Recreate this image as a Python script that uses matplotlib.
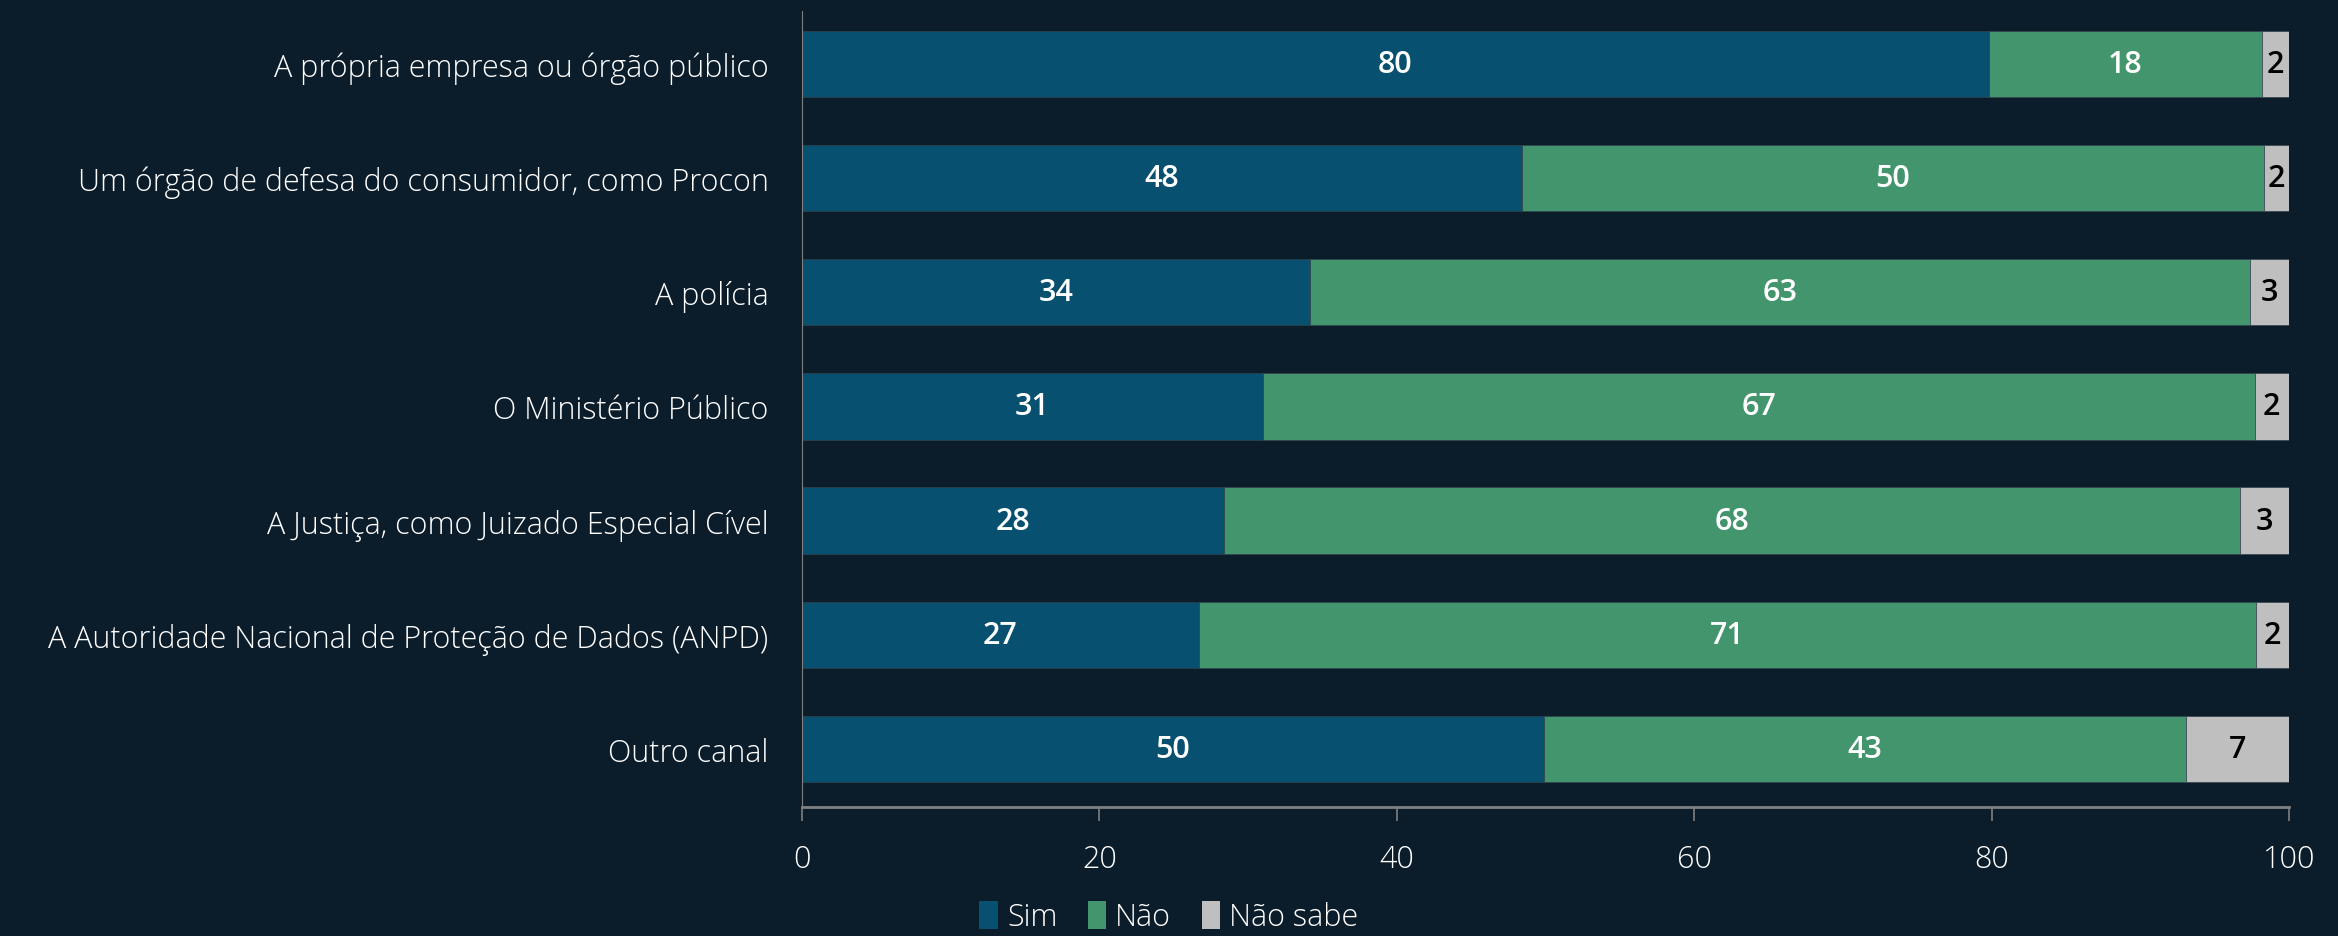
import numpy as np
import matplotlib.pyplot as plt
from matplotlib.patches import Patch

# Data (percent)
categories = [
    'A própria empresa ou órgão público',
    'Um órgão de defesa do consumidor, como Procon',
    'A polícia',
    'O Ministério Público',
    'A Justiça, como Juizado Especial Cível',
    'A Autoridade Nacional de Proteção de Dados (ANPD)',
    'Outro canal',
]
sim = [79.8, 48.4, 34.2, 31.0, 28.4, 26.7, 49.9]
nao = [18.4, 49.9, 63.2, 66.7, 68.3, 71.1, 43.2]
nao_sabe = [1.8, 1.7, 2.6, 2.3, 3.3, 2.2, 6.9]
series_names = ['Sim', 'Não', 'Não sabe']

bg = '#0B1C2A'
colors = ['#08506F', '#43956D', '#BFBFBF']
text_colors = ['white', 'white', 'black']

plt.rcParams['font.family'] = ['Open Sans', 'DejaVu Sans']

fig = plt.figure(figsize=(23.38, 9.37), dpi=100, facecolor=bg)
ax = fig.add_axes([0.343, 0.1377, 0.636, 0.8495], facecolor=bg)

y = np.arange(len(categories))
left = np.zeros(len(categories))
for vals, col, tcol in zip([sim, nao, nao_sabe], colors, text_colors):
    vals = np.array(vals)
    ax.barh(y, vals, left=left, height=0.58, color=col,
            edgecolor='#33434e', linewidth=0.5)
    for yi, l, v in zip(y, left, vals):
        ax.text(l + v / 2, yi, f'{v:.0f}', ha='center', va='center',
                color=tcol, fontsize=22, fontweight='semibold')
    left += vals

ax.set_xlim(0, 100)
ax.set_ylim(6.51, -0.465)
ax.set_yticks(y)
ax.set_yticklabels(categories, fontsize=22, color='white', fontweight='light')
ax.set_xticks([0, 20, 40, 60, 80, 100])
ax.tick_params(axis='y', length=0, pad=24)
ax.tick_params(axis='x', colors='#808080', labelcolor='white', labelsize=22,
               length=10, width=1.2, pad=16)
for lab in ax.get_xticklabels():
    lab.set_fontweight('light')

for s in ['top', 'right']:
    ax.spines[s].set_visible(False)
ax.spines['left'].set_color('#808080')
ax.spines['bottom'].set_color('#808080')
ax.spines['bottom'].set_linewidth(2)

handles = [Patch(facecolor=c, label=n) for c, n in zip(colors, series_names)]
leg = fig.legend(handles=handles, loc='center', bbox_to_anchor=(0.5, 0.02),
                 ncol=3, frameon=False, fontsize=22, handlelength=0.6,
                 handleheight=1.0, handletextpad=0.3, columnspacing=1.0,
                 borderpad=0.1)
for t in leg.get_texts():
    t.set_color('white')
    t.set_fontweight('light')

fig.savefig('out.png', dpi=100, facecolor=bg)
